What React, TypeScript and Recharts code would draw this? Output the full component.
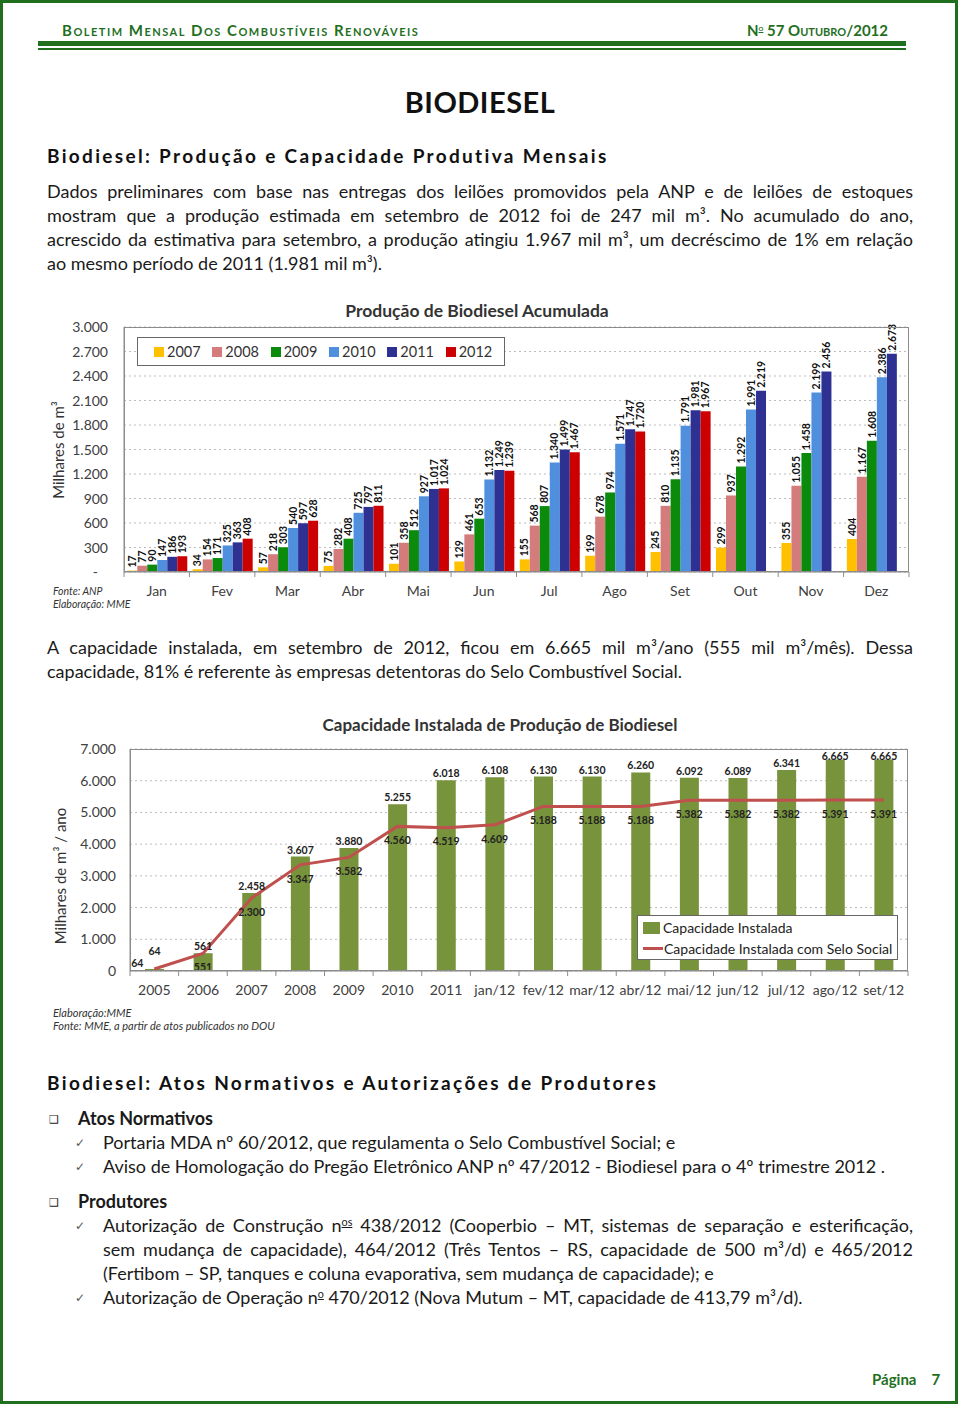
import React from 'react';
import {
  BarChart,
  Bar,
  ComposedChart,
  Line,
  XAxis,
  YAxis,
  CartesianGrid,
  LabelList,
  Legend
} from 'recharts';

// Produção acumulada (mil m³)
const meses = ['Jan', 'Fev', 'Mar', 'Abr', 'Mai', 'Jun', 'Jul', 'Ago', 'Set', 'Out', 'Nov', 'Dez'];
const anos = ['2007', '2008', '2009', '2010', '2011', '2012'];
const prod2007 = [17, 34, 57, 75, 101, 129, 155, 199, 245, 299, 355, 404];
const prod2008 = [77, 154, 218, 282, 358, 461, 568, 678, 810, 937, 1055, 1167];
const prod2009 = [90, 171, 303, 408, 512, 653, 807, 974, 1135, 1292, 1458, 1608];
const prod2010 = [147, 325, 540, 725, 927, 1132, 1340, 1571, 1791, 1991, 2199, 2386];
const prod2011 = [186, 363, 597, 797, 1017, 1249, 1499, 1747, 1981, 2219, 2456, 2673];
const prod2012 = [193, 408, 628, 811, 1024, 1239, 1467, 1720, 1967, null, null, null];
const coresAnos = ['#FFC000', '#D47C7C', '#0B8A0B', '#4F8FDD', '#2E3192', '#CC0000'];
const ticksProducao = [0, 300, 600, 900, 1200, 1500, 1800, 2100, 2400, 2700, 3000];

// Capacidade instalada (mil m³/ano)
const periodos = ['2005', '2006', '2007', '2008', '2009', '2010', '2011', 'jan/12', 'fev/12', 'mar/12', 'abr/12', 'mai/12', 'jun/12', 'jul/12', 'ago/12', 'set/12'];
const capInstalada = [64, 561, 2458, 3607, 3880, 5255, 6018, 6108, 6130, 6130, 6260, 6092, 6089, 6341, 6665, 6665];
const capSeloSocial = [64, 551, 2300, 3347, 3582, 4560, 4519, 4609, 5188, 5188, 5188, 5382, 5382, 5382, 5391, 5391];
const ticksCapacidade = [0, 1000, 2000, 3000, 4000, 5000, 6000, 7000];

const series = [prod2007, prod2008, prod2009, prod2010, prod2011, prod2012];
const producaoData = meses.map((m, i) => {
  const row: any = { mes: m };
  anos.forEach((a, k) => { row['a' + a] = series[k][i]; });
  return row;
});
const capacidadeData = periodos.map((p, i) => ({ periodo: p, instalada: capInstalada[i], selo: capSeloSocial[i] }));

const fmt = (n: number) => String(n).replace(/\B(?=(\d{3})+(?!\d))/g, '.');

const FONT = 'Lato, "Open Sans", sans-serif';
const GREEN = '#1F6F1F';
const AXIS = '#8C8C8C';

const VerticalLabel = (props: any) => {
  const { x, y, width, value } = props;
  if (value == null) return null;
  return (
    <text
      transform={`translate(${x + width / 2 + 3.7}, ${y - 3}) rotate(-90)`}
      fontSize={10.5}
      fontWeight={700}
      fill="#111"
      fontFamily={FONT}
      textAnchor="start"
    >
      {fmt(value)}
    </text>
  );
};

const makeTick = (bandWidth: number, count: number) => (props: any) => {
  const { x, y, payload, index } = props;
  return (
    <g>
      <line x1={x - bandWidth / 2} x2={x - bandWidth / 2} y1={y} y2={y + 5} stroke={AXIS} />
      {index === count - 1 && <line x1={x + bandWidth / 2} x2={x + bandWidth / 2} y1={y} y2={y + 5} stroke={AXIS} />}
      <text x={x} y={y + 24} textAnchor="middle" fontSize={14} fill="#404040" fontFamily={FONT}>
        {payload.value}
      </text>
    </g>
  );
};

const ProducaoYTick = (props: any) => {
  const { x, y, payload } = props;
  const v = payload.value;
  return (
    <text x={v === 0 ? x - 10 : x} y={y} dy={5} textAnchor="end" fontSize={14} fill="#404040" fontFamily={FONT}>
      {v === 0 ? '-' : fmt(v)}
    </text>
  );
};

const SeloLabel = (props: any) => {
  const { x, y, value } = props;
  if (value == null) return null;
  const small = value < 100;
  return (
    <text
      x={small ? x - 17 : x}
      y={small ? y - 5 : y + 15}
      textAnchor="middle"
      dominantBaseline="middle"
      fontSize={10.5}
      fontWeight={700}
      fill="#222"
      fontFamily={FONT}
    >
      {fmt(value)}
    </text>
  );
};

const InstaladaLabel = (props: any) => {
  const { x, y, width, value } = props;
  if (value == null) return null;
  const small = value < 100;
  const nearTop = value > 6500;
  return (
    <text
      x={x + width / 2}
      y={small ? y - 14 : nearTop ? y : y - 3}
      textAnchor="middle"
      fontSize={10.5}
      fontWeight={700}
      fill="#222"
      fontFamily={FONT}
    >
      {fmt(value)}
    </text>
  );
};

const ProducaoLegend = () => (
  <div style={{ width: 368, height: 29, boxSizing: 'border-box', border: '1px solid #666', background: '#fff', display: 'flex', alignItems: 'center', paddingLeft: 16, fontFamily: FONT, fontSize: 14.5, color: '#333' }}>
    {anos.map((a, k) => (
      <div key={a} style={{ display: 'flex', alignItems: 'center', width: 59 }}>
        <span style={{ display: 'inline-block', width: 10, height: 10, background: coresAnos[k], marginRight: 3 }} />
        {a}
      </div>
    ))}
  </div>
);

const CapacidadeLegend = () => (
  <div style={{ width: 261, height: 45, boxSizing: 'border-box', border: '1px solid #666', background: '#fff', fontFamily: FONT, fontSize: 14, color: '#222', padding: '1px 0 0 5px', lineHeight: '21px' }}>
    <div style={{ display: 'flex', alignItems: 'center' }}>
      <span style={{ display: 'inline-block', width: 17, height: 12, background: '#77933C', marginRight: 3 }} />
      Capacidade Instalada
    </div>
    <div style={{ display: 'flex', alignItems: 'center' }}>
      <span style={{ display: 'inline-block', width: 20, height: 3, background: '#C0504D', marginRight: 1 }} />
      Capacidade Instalada com Selo Social
    </div>
  </div>
);

const abs = (left: number, top: number, extra: React.CSSProperties = {}): React.CSSProperties => ({
  position: 'absolute', left, top, ...extra
});

const body: React.CSSProperties = { fontSize: 18, lineHeight: '24px', color: '#1a1a1a', whiteSpace: 'nowrap' };

const JLine = ({ left, top, width, children }: any) => (
  <div style={{ ...abs(left, top), width, fontSize: 18, lineHeight: '24px', color: '#1a1a1a', textAlign: 'justify', textAlignLast: 'justify', height: 24 }}>
    {children}
  </div>
);

const Check = ({ top }: { top: number }) => (
  <div style={{ ...abs(75, top), fontSize: 12, lineHeight: '24px', color: '#555', fontFamily: '"DejaVu Sans", sans-serif' }}>✓</div>
);

const Square = ({ top }: { top: number }) => (
  <div style={{ ...abs(49, top), fontSize: 11, lineHeight: '24px', color: '#222', fontFamily: '"DejaVu Sans", sans-serif' }}>❑</div>
);

const sup = (t: string) => <sup style={{ fontSize: '0.6em', textDecoration: 'underline', verticalAlign: '0.6em', lineHeight: 0 }}>{t}</sup>;

export default function App() {
  return (
    <div style={{ position: 'absolute', left: 0, top: 0, width: 960, height: 1409, background: '#fff', fontFamily: FONT, overflow: 'hidden' }}>
      {/* page frame */}
      <div style={{ ...abs(0, 0), width: 958, height: 1404, border: `3px solid ${GREEN}`, boxSizing: 'border-box' }} />

      {/* header */}
      <div style={{ ...abs(62, 21), fontSize: 15, fontWeight: 700, fontVariant: 'small-caps', letterSpacing: 1.5, color: GREEN, lineHeight: '18px', whiteSpace: 'nowrap' }}>
        Boletim Mensal Dos Combustíveis Renováveis
      </div>
      <div style={{ ...abs(700, 21), width: 188, textAlign: 'right', fontSize: 15, fontWeight: 700, fontVariant: 'small-caps', color: GREEN, lineHeight: '18px', whiteSpace: 'nowrap' }}>
        N{sup('o')} 57 Outubro/2012
      </div>
      <div style={{ ...abs(38, 41), width: 868, height: 4.5, background: GREEN }} />
      <div style={{ ...abs(38, 48), width: 868, height: 1.5, background: GREEN }} />

      <div style={{ ...abs(0, 84), width: 960, textAlign: 'center', fontSize: 29, fontWeight: 700, lineHeight: '36px', color: '#111', letterSpacing: 0.5 }}>
        BIODIESEL
      </div>

      <div style={{ ...abs(47, 144), fontSize: 19, fontWeight: 700, letterSpacing: 2.32, lineHeight: '24px', color: '#111', whiteSpace: 'nowrap' }}>
        Biodiesel: Produção e Capacidade Produtiva Mensais
      </div>

      <JLine left={47} top={179} width={866}>Dados preliminares com base nas entregas dos leilões promovidos pela ANP e de leilões de estoques</JLine>
      <JLine left={47} top={203} width={866}>mostram que a produção estimada em setembro de 2012 foi de 247 mil m³. No acumulado do ano,</JLine>
      <JLine left={47} top={227} width={866}>acrescido da estimativa para setembro, a produção atingiu 1.967 mil m³, um decréscimo de 1% em relação</JLine>
      <div style={{ ...abs(47, 251), ...body }}>ao mesmo período de 2011 (1.981 mil m³).</div>

      {/* chart 1 */}
      <div style={{ ...abs(0, 299), width: 954, textAlign: 'center', fontSize: 17.5, fontWeight: 700, color: '#333', lineHeight: '24px' }}>
        Produção de Biodiesel Acumulada
      </div>
      <div style={{ ...abs(40, 300), width: 880, height: 310 }}>
        <BarChart width={880} height={310} data={producaoData} margin={{ top: 27, right: 11, left: 24, bottom: 8 }} barCategoryGap="5%" barGap={0}>
          <CartesianGrid vertical={false} stroke="#BDBDBD" strokeDasharray="2 3" />
          <XAxis dataKey="mes" height={30} axisLine={{ stroke: AXIS }} tickLine={false} tickSize={0} tickMargin={0} interval={0} tick={makeTick(785 / 12, 12)} />
          <YAxis
            width={60}
            domain={[0, 3000]}
            ticks={ticksProducao}
            interval={0}
            axisLine={{ stroke: AXIS }}
            tickLine={false}
            tickSize={0}
            tickMargin={16}
            tick={ProducaoYTick}
          />
          <Legend content={ProducaoLegend} layout="horizontal" verticalAlign="middle" align="center" wrapperStyle={{ left: 97, top: 37, width: 368, height: 29 }} />
          {anos.map((a, k) => (
            <Bar key={a} dataKey={'a' + a} name={a} fill={coresAnos[k]} isAnimationActive={false}>
              <LabelList dataKey={'a' + a} content={VerticalLabel} />
            </Bar>
          ))}
        </BarChart>
      </div>
      <div style={{ ...abs(124, 327), width: 785, height: 245, border: `1px solid ${AXIS}`, boxSizing: 'border-box', pointerEvents: 'none' }} />
      <div style={{ ...abs(3, 440), width: 110, height: 20, transform: 'rotate(-90deg)', transformOrigin: '55px 10px', textAlign: 'center', fontSize: 15, color: '#333', whiteSpace: 'nowrap', lineHeight: '20px' }}>
        Milhares de m³
      </div>
      <div style={{ ...abs(53, 585), fontSize: 10.5, fontStyle: 'italic', color: '#333', lineHeight: '13px', whiteSpace: 'nowrap' }}>
        Fonte: ANP<br />Elaboração: MME
      </div>

      <JLine left={47} top={635} width={866}>A capacidade instalada, em setembro de 2012, ficou em 6.665 mil m³/ano (555 mil m³/mês). Dessa</JLine>
      <div style={{ ...abs(47, 659), ...body }}>capacidade, 81% é referente às empresas detentoras do Selo Combustível Social.</div>

      {/* chart 2 */}
      <div style={{ ...abs(0, 713), width: 1000, textAlign: 'center', fontSize: 17, fontWeight: 700, color: '#333', lineHeight: '24px' }}>
        Capacidade Instalada de Produção de Biodiesel
      </div>
      <div style={{ ...abs(40, 740), width: 880, height: 270 }}>
        <ComposedChart width={880} height={270} data={capacidadeData} margin={{ top: 9, right: 12, left: 30, bottom: 9 }}>
          <CartesianGrid vertical={false} stroke="#BDBDBD" strokeDasharray="2 3" />
          <XAxis dataKey="periodo" height={30} axisLine={{ stroke: AXIS }} tickLine={false} tickSize={0} tickMargin={0} interval={0} tick={makeTick(778 / 16, 16)} />
          <YAxis
            width={60}
            domain={[0, 7000]}
            ticks={ticksCapacidade}
            interval={0}
            axisLine={{ stroke: AXIS }}
            tickLine={false}
            tickSize={0}
            tickMargin={14}
            tick={{ fontSize: 14, fill: '#404040', fontFamily: FONT }}
            tickFormatter={(v: number) => fmt(v)}
          />
          <Legend content={CapacidadeLegend} layout="horizontal" verticalAlign="middle" align="center" wrapperStyle={{ left: 597, top: 175, width: 261, height: 45 }} />
          <Bar dataKey="instalada" name="Capacidade Instalada" fill="#77933C" barSize={19} isAnimationActive={false}>
            <LabelList dataKey="instalada" content={InstaladaLabel} />
          </Bar>
          <Line dataKey="selo" name="Capacidade Instalada com Selo Social" type="linear" stroke="#C0504D" strokeWidth={3} dot={false} isAnimationActive={false}>
            <LabelList dataKey="selo" content={SeloLabel} />
          </Line>
        </ComposedChart>
      </div>
      <div style={{ ...abs(130, 749), width: 778, height: 222, border: `1px solid ${AXIS}`, boxSizing: 'border-box', pointerEvents: 'none' }} />
      <div style={{ ...abs(-10, 866), width: 140, height: 20, transform: 'rotate(-90deg)', transformOrigin: '70px 10px', textAlign: 'center', fontSize: 15, color: '#333', whiteSpace: 'nowrap', lineHeight: '20px' }}>
        Milhares de m³ / ano
      </div>
      <div style={{ ...abs(53, 1006), fontSize: 11, fontStyle: 'italic', color: '#333', lineHeight: '13px', whiteSpace: 'nowrap' }}>
        Elaboração:MME<br />Fonte: MME, a partir de atos publicados no DOU
      </div>

      {/* section 2 */}
      <div style={{ ...abs(47, 1071), fontSize: 19, fontWeight: 700, letterSpacing: 2.36, lineHeight: '24px', color: '#111', whiteSpace: 'nowrap' }}>
        Biodiesel: Atos Normativos e Autorizações de Produtores
      </div>

      <Square top={1108} />
      <div style={{ ...abs(78, 1106), ...body, fontWeight: 700 }}>Atos Normativos</div>
      <Check top={1131} />
      <div style={{ ...abs(103, 1130), ...body }}>Portaria MDA nº 60/2012, que regulamenta o Selo Combustível Social; e</div>
      <Check top={1155} />
      <div style={{ ...abs(103, 1154), ...body }}>Aviso de Homologação do Pregão Eletrônico ANP nº 47/2012 - Biodiesel para o 4º trimestre 2012 .</div>

      <Square top={1191} />
      <div style={{ ...abs(78, 1189), ...body, fontWeight: 700 }}>Produtores</div>
      <Check top={1214} />
      <JLine left={103} top={1213} width={810}>Autorização de Construção n{sup('os')} 438/2012 (Cooperbio – MT, sistemas de separação e esterificação,</JLine>
      <JLine left={103} top={1237} width={810}>sem mudança de capacidade), 464/2012 (Três Tentos – RS, capacidade de 500 m³/d) e 465/2012</JLine>
      <div style={{ ...abs(103, 1261), ...body }}>(Fertibom – SP, tanques e coluna evaporativa, sem mudança de capacidade); e</div>
      <Check top={1286} />
      <div style={{ ...abs(103, 1285), ...body }}>Autorização de Operação n{sup('o')}  470/2012 (Nova Mutum – MT, capacidade de 413,79  m³/d).</div>

      <div style={{ ...abs(872, 1369), fontSize: 15, fontWeight: 700, color: GREEN, lineHeight: '20px', whiteSpace: 'nowrap' }}>
        Página<span style={{ marginLeft: 15 }}>7</span>
      </div>
    </div>
  );
}
